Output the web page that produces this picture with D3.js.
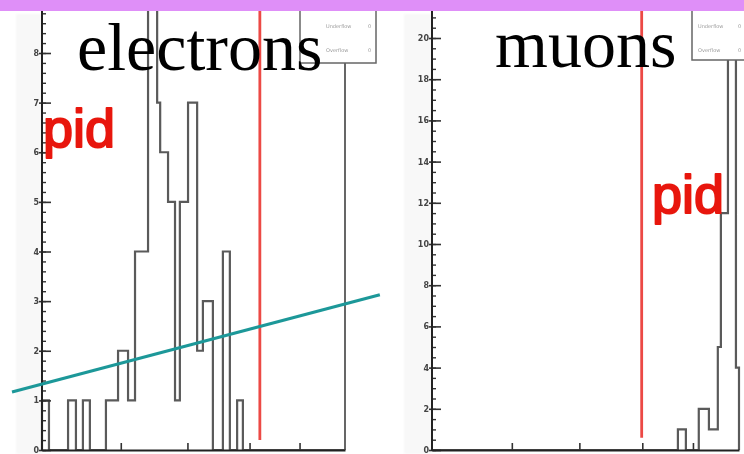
<!DOCTYPE html>
<html>
<head>
<meta charset="utf-8">
<script src="https://cdn.jsdelivr.net/npm/d3@7"></script>
<style>
  html, body { margin: 0; padding: 0; background: #fff; overflow: hidden; }
  svg { display: block; }
</style>
</head>
<body>
<svg id="chart" width="744" height="454"></svg>
<script>
// ---- Data -------------------------------------------------------------
// Electron sample: variable-width bin edges (x units) and entries per bin
const electronEdges  = [0, 2.3, 8.6, 11.2, 13.5, 15.8, 21.1, 25.1, 28.4, 30.7, 35, 38, 39, 41.6, 43.9, 45.5, 48.2, 51.2, 53.1, 56.4, 59.7, 62, 64.4, 66.3, 100];
const electronCounts = [1, 0, 1, 0, 1, 0, 1, 2, 1, 4, 12, 7, 6, 5, 1, 5, 7, 2, 3, 0, 4, 0, 1, 0];

// Muon sample
const muonEdges  = [0, 80.1, 82.7, 86.9, 90.2, 93.1, 94.1, 96.4, 99, 100];
const muonCounts = [0, 1, 0, 2, 1, 5, 11.5, 25, 4];

// Axis ticks
const electronYTicks = [0, 1, 2, 3, 4, 5, 6, 7, 8];
const muonYTicks     = [0, 2, 4, 6, 8, 10, 12, 14, 16, 18, 20];
const xTicks         = [26, 48, 68.5, 85];

// PID cut positions (x units) and the linear discriminant line (electron panel units)
const electronCut = 71.9;
const muonCut     = 68.3;
const discriminant = [[-9.9, 1.17], [111.5, 3.13]];

const titles = ["electrons", "muons"];
const statRows = ["Underflow", "Overflow"];

// ---- Setup ------------------------------------------------------------
const svg = d3.select("#chart");
const defs = svg.append("defs");
function blurFilter(id, sd) {
  defs.append("filter").attr("id", id)
    .attr("filterUnits", "userSpaceOnUse")
    .attr("x", -50).attr("y", -50).attr("width", 850).attr("height", 560)
    .append("feGaussianBlur").attr("stdDeviation", sd);
}
blurFilter("soft", 0.45);
blurFilter("softer", 0.7);
blurFilter("glow", 1.2);

const panels = [
  {
    title: titles[0], edges: electronEdges, counts: electronCounts, yTicks: electronYTicks,
    x: d3.scaleLinear().domain([0, 100]).range([42, 345]),
    y: d3.scaleLinear().domain([0, 8]).range([450, 53]),
    minorStep: 0.2, cut: electronCut, cutLow: 0.2, cutHigh: 9,
    titleX: 77, titleY: 70, pidX: 43, pidY: 147,
    box: [300, 376, 63], frameRight: true
  },
  {
    title: titles[1], edges: muonEdges, counts: muonCounts, yTicks: muonYTicks,
    x: d3.scaleLinear().domain([0, 100]).range([432, 739]),
    y: d3.scaleLinear().domain([0, 20]).range([450, 38]),
    minorStep: 0.5, cut: muonCut, cutLow: 0.6, cutHigh: 22,
    titleX: 495, titleY: 67, pidX: 652, pidY: 213,
    box: [692, 752, 60], frameRight: false
  }
];

// Faint haze beside the vertical axes
[[16, 42], [404, 432]].forEach(([a, b]) => {
  svg.append("rect").attr("x", a).attr("y", 14).attr("width", b - a).attr("height", 440)
    .attr("fill", "#f8f8f8").attr("filter", "url(#glow)");
});

panels.forEach(p => {
  const g = svg.append("g");
  const [x0, x1] = p.x.range();

  // Histogram outline as a step path
  const pts = [[p.edges[0], 0]];
  p.counts.forEach((c, i) => { pts.push([p.edges[i], c]); pts.push([p.edges[i + 1], c]); });
  pts.push([p.edges[p.edges.length - 1], 0]);
  const line = d3.line().x(d => p.x(d[0])).y(d => p.y(d[1]));
  g.append("path").attr("d", line(pts))
    .attr("fill", "none").attr("stroke", "#5a5a5a").attr("stroke-width", 2.2)
    .attr("filter", "url(#soft)");

  // Right frame edge
  if (p.frameRight) {
    g.append("line").attr("x1", x1).attr("x2", x1).attr("y1", p.box[2]).attr("y2", 450)
      .attr("stroke", "#555").attr("stroke-width", 1.8).attr("filter", "url(#soft)");
  }

  // Y axis: major ticks with labels, minor ticks inside
  const yMinor = d3.range(0, p.y.invert(8) + 1e-9, p.minorStep);
  const axG = g.append("g").attr("filter", "url(#soft)");
  axG.append("g").attr("transform", `translate(${x0},0)`)
    .call(d3.axisLeft(p.y).tickValues(yMinor).tickSize(-4).tickSizeOuter(0).tickFormat(""))
    .call(s => s.selectAll("line").attr("stroke", "#333").attr("stroke-width", 1.4))
    .call(s => s.select(".domain").remove());
  axG.append("g").attr("transform", `translate(${x0},0)`)
    .call(d3.axisLeft(p.y).tickValues(p.yTicks).tickSize(-9).tickSizeOuter(0).tickPadding(3))
    .call(s => s.selectAll("line").attr("stroke", "#333").attr("stroke-width", 1.6).attr("x1", -3))
    .call(s => s.select(".domain").remove())
    .call(s => s.selectAll("text").attr("font-family", "DejaVu Sans").attr("font-weight", "bold")
      .attr("font-size", 8).attr("fill", "#444"));
  axG.append("line").attr("x1", x0).attr("x2", x0).attr("y1", 8).attr("y2", 451)
    .attr("stroke", "#222").attr("stroke-width", 2);

  // X axis with inward ticks
  axG.append("g").attr("transform", `translate(0,450)`)
    .call(d3.axisBottom(p.x).tickValues(xTicks).tickSize(-7).tickSizeOuter(0).tickFormat(""))
    .call(s => s.selectAll("line").attr("stroke", "#333").attr("stroke-width", 1.6))
    .call(s => s.select(".domain").attr("stroke", "#222").attr("stroke-width", 2));

  // PID cut
  g.append("line")
    .attr("x1", p.x(p.cut)).attr("x2", p.x(p.cut))
    .attr("y1", p.y(p.cutLow)).attr("y2", p.y(p.cutHigh))
    .attr("stroke", "#ec4a45").attr("stroke-width", 2.8).attr("filter", "url(#soft)");

  // Statistics box
  const [bx0, bx1, by1] = p.box;
  const box = g.append("g").attr("filter", "url(#soft)");
  box.append("rect").attr("x", bx0).attr("y", -5).attr("width", bx1 - bx0).attr("height", by1 + 5)
    .attr("fill", "#fff").attr("stroke", "#666").attr("stroke-width", 1.5);
  const valX = Math.min(bx1 - 8, 738);
  const textX = p.frameRight ? bx0 + 26 : bx0 + 6;
  statRows.forEach((r, i) => {
    box.append("text").attr("x", textX).attr("y", 28 + i * 24).text(r)
      .attr("font-family", "DejaVu Sans").attr("font-size", 5).attr("fill", "#999");
    box.append("text").attr("x", valX).attr("y", 28 + i * 24).text("0")
      .attr("font-family", "DejaVu Sans").attr("font-size", 5).attr("fill", "#999");
  });
});

// Linear discriminant line across the electron panel
const pe = panels[0];
svg.append("line")
  .attr("x1", pe.x(discriminant[0][0])).attr("y1", pe.y(discriminant[0][1]))
  .attr("x2", pe.x(discriminant[1][0])).attr("y2", pe.y(discriminant[1][1]))
  .attr("stroke", "#1e9899").attr("stroke-width", 3.2).attr("filter", "url(#soft)");

// Titles and pid labels
panels.forEach(p => {
  svg.append("text").attr("x", p.titleX).attr("y", p.titleY).text(p.title)
    .attr("font-family", "Liberation Serif, Times New Roman, serif")
    .attr("font-size", 68).attr("fill", "#000");
  svg.append("text").attr("x", p.pidX).attr("y", p.pidY).text("pid")
    .attr("font-family", "Liberation Sans, Arial, sans-serif")
    .attr("font-size", 54).attr("fill", "#e8180e")
    .attr("stroke", "#e8180e").attr("stroke-width", 2).attr("stroke-linejoin", "round")
    .attr("filter", "url(#softer)");
});

// Header band
svg.append("rect").attr("x", -10).attr("y", -12).attr("width", 764).attr("height", 23).attr("rx", 7)
  .attr("fill", "#df8ff8");
</script>
</body>
</html>
